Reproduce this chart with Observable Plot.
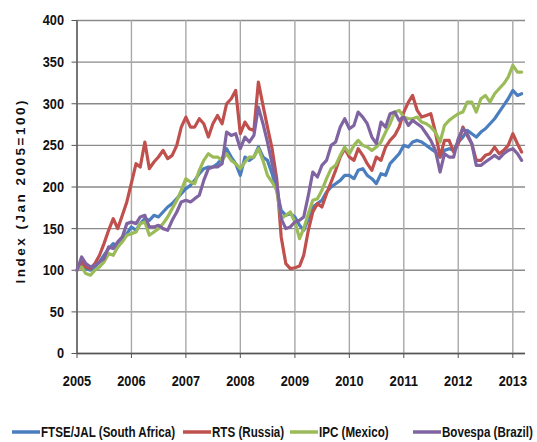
<!DOCTYPE html>
<html>
<head>
<meta charset="utf-8">
<script src="https://cdn.jsdelivr.net/npm/d3@7"></script>
<script src="https://cdn.jsdelivr.net/npm/@observablehq/plot@0.6"></script>
<style>
  html, body { margin: 0; padding: 0; background: #fff; }
  #chart { width: 537px; }
  #legend { display: block; }
</style>
</head>
<body>
<div id="chart"></div>
<script>
// Monthly index values, Jan 2005 .. Mar 2013 (Jan 2005 = 100)
const startMonth = "2005-01-01";
const seriesNames = ["FTSE/JAL (South Africa)", "RTS (Russia)", "IPC (Mexico)", "Bovespa (Brazil)"];
const seriesColors = ["#4A7EBF", "#C0504D", "#9BBB59", "#8064A2"];

const ftse = [100,108,102,100,104,110,118,126,132,128,136,144,152,148,156,162,160,166,164,170,
  176,180,186,192,198,202,208,216,222,224,224,228,234,246,236,228,214,236,232,236,
  248,236,232,216,196,172,166,168,164,154,148,162,176,180,184,194,200,204,208,214,
  214,210,220,222,214,210,204,216,214,228,234,240,250,248,254,256,254,250,246,242,
  236,244,246,244,254,260,268,264,260,266,270,276,282,290,298,306,316,310,312];
const rts = [100,110,104,102,108,118,132,148,162,150,166,182,205,228,224,254,222,230,236,244,
  234,238,250,272,284,272,272,282,276,260,276,286,276,300,306,316,264,278,270,268,
  326,298,272,246,210,140,108,102,103,105,118,148,170,180,176,192,206,220,236,246,
  236,232,246,238,228,220,236,232,248,256,262,272,290,302,310,292,284,286,288,266,
  236,256,256,242,252,272,262,252,232,232,238,240,248,240,244,250,264,252,242];
const ipc = [100,104,96,94,100,104,110,120,118,128,134,142,144,146,156,158,142,146,150,156,
  164,174,184,196,210,206,204,220,232,240,236,236,232,240,232,228,222,230,236,236,
  246,232,214,206,196,162,166,170,158,138,150,168,184,186,196,210,222,226,238,248,
  240,250,256,250,248,244,248,254,266,276,290,292,284,282,282,284,278,276,272,266,
  254,274,280,284,288,290,302,302,290,306,310,302,312,318,324,332,346,338,338];
const bovespa = [100,116,108,104,106,110,114,128,126,134,140,156,158,156,164,166,152,152,154,150,
  148,160,170,182,184,182,186,190,208,222,224,224,228,266,262,264,246,260,254,262,
  296,276,254,228,205,162,150,152,158,160,164,190,218,212,226,232,250,254,272,282,
  270,274,290,284,276,260,252,278,272,288,290,280,284,274,280,276,272,264,256,244,
  218,240,236,236,258,270,264,252,226,226,230,234,238,234,240,244,246,240,232];
const yTicks = [0,50,100,150,200,250,300,350,400];
const xTickYears = [2005,2006,2007,2008,2009,2010,2011,2012,2013];

const months = d3.utcMonth.range(new Date(startMonth), new Date(Date.UTC(2013, 3, 1)));
const allSeries = [ftse, rts, ipc, bovespa];
const rows = [];
allSeries.forEach((vals, si) => vals.forEach((v, i) => rows.push({date: months[i], value: v, series: seriesNames[si]})));
const xTicks = xTickYears.map(y => new Date(Date.UTC(y, 0, 1)));
const x0 = new Date(Date.UTC(2005, 0, 1)), x1 = new Date(Date.UTC(2013, 2, 27));

const font = "'Liberation Sans', Arial, sans-serif";
const plot = Plot.plot({
  width: 537, height: 400,
  marginLeft: 76.5, marginRight: 12, marginTop: 20, marginBottom: 47,
  style: {fontFamily: font, fontWeight: "bold", fontSize: "15.5px", color: "#111", background: "#fff", overflow: "visible"},
  x: {type: "utc", domain: [x0, x1]},
  y: {domain: [0, 400]},
  color: {domain: seriesNames, range: seriesColors},
  marks: [
    Plot.ruleY(yTicks, {stroke: "#8a8a8a", strokeWidth: 1.4}),
    Plot.ruleX(xTicks, {stroke: "#a8a8a8", strokeWidth: 1.4}),
    Plot.ruleX([x0], {stroke: "#555", strokeWidth: 1.4}),
    Plot.ruleY([0], {stroke: "#555", strokeWidth: 1.4}),
    Plot.axisY({ticks: yTicks, tickSize: 5, tickPadding: 8, stroke: "#555", label: "Index (Jan 2005=100)", labelAnchor: "center", labelOffset: 62, labelArrow: "none"}),
    Plot.axisX({ticks: xTicks, tickFormat: d3.utcFormat("%Y"), tickSize: 5, tickPadding: 16, stroke: "#555", label: null}),
    Plot.line(rows, {x: "date", y: "value", z: "series", stroke: "series", strokeWidth: 3.2, strokeLinejoin: "round"})
  ]
});
document.getElementById("chart").appendChild(plot);

// narrow (Calibri-like) tick labels: compress glyphs horizontally
const digitW = 7.1;
plot.querySelectorAll('[aria-label="y-axis tick label"] text, [aria-label="x-axis tick label"] text').forEach(t => {
  const n = t.textContent.length;
  t.setAttribute("textLength", (n * digitW).toFixed(1));
  t.setAttribute("lengthAdjust", "spacingAndGlyphs");
});
// y-axis label styling
plot.querySelectorAll('[aria-label="y-axis label"] text').forEach(t => {
  t.style.fontSize = "13.5px";
  t.setAttribute("textLength", "183");
  t.setAttribute("lengthAdjust", "spacing");
  t.setAttribute("dx", "-5");
});

// legend (below the SVG), uniformly narrowed text
const legendSwatchX = [12, 183, 290, 413];
const lg = d3.create("svg").attr("id", "legend").attr("width", 537).attr("height", 42)
  .style("font-family", font).style("font-weight", "bold").style("font-size", "14.5px");
seriesNames.forEach((name, i) => {
  const sx = legendSwatchX[i];
  lg.append("line").attr("x1", sx).attr("x2", sx + 28).attr("y1", 32).attr("y2", 32)
    .attr("stroke", seriesColors[i]).attr("stroke-width", 3.5);
  lg.append("text").attr("transform", `translate(${sx + 29},32) scale(0.8,1)`).attr("dy", "0.36em").attr("fill", "#111")
    .text(name);
});
document.getElementById("chart").appendChild(lg.node());
</script>
</body>
</html>
